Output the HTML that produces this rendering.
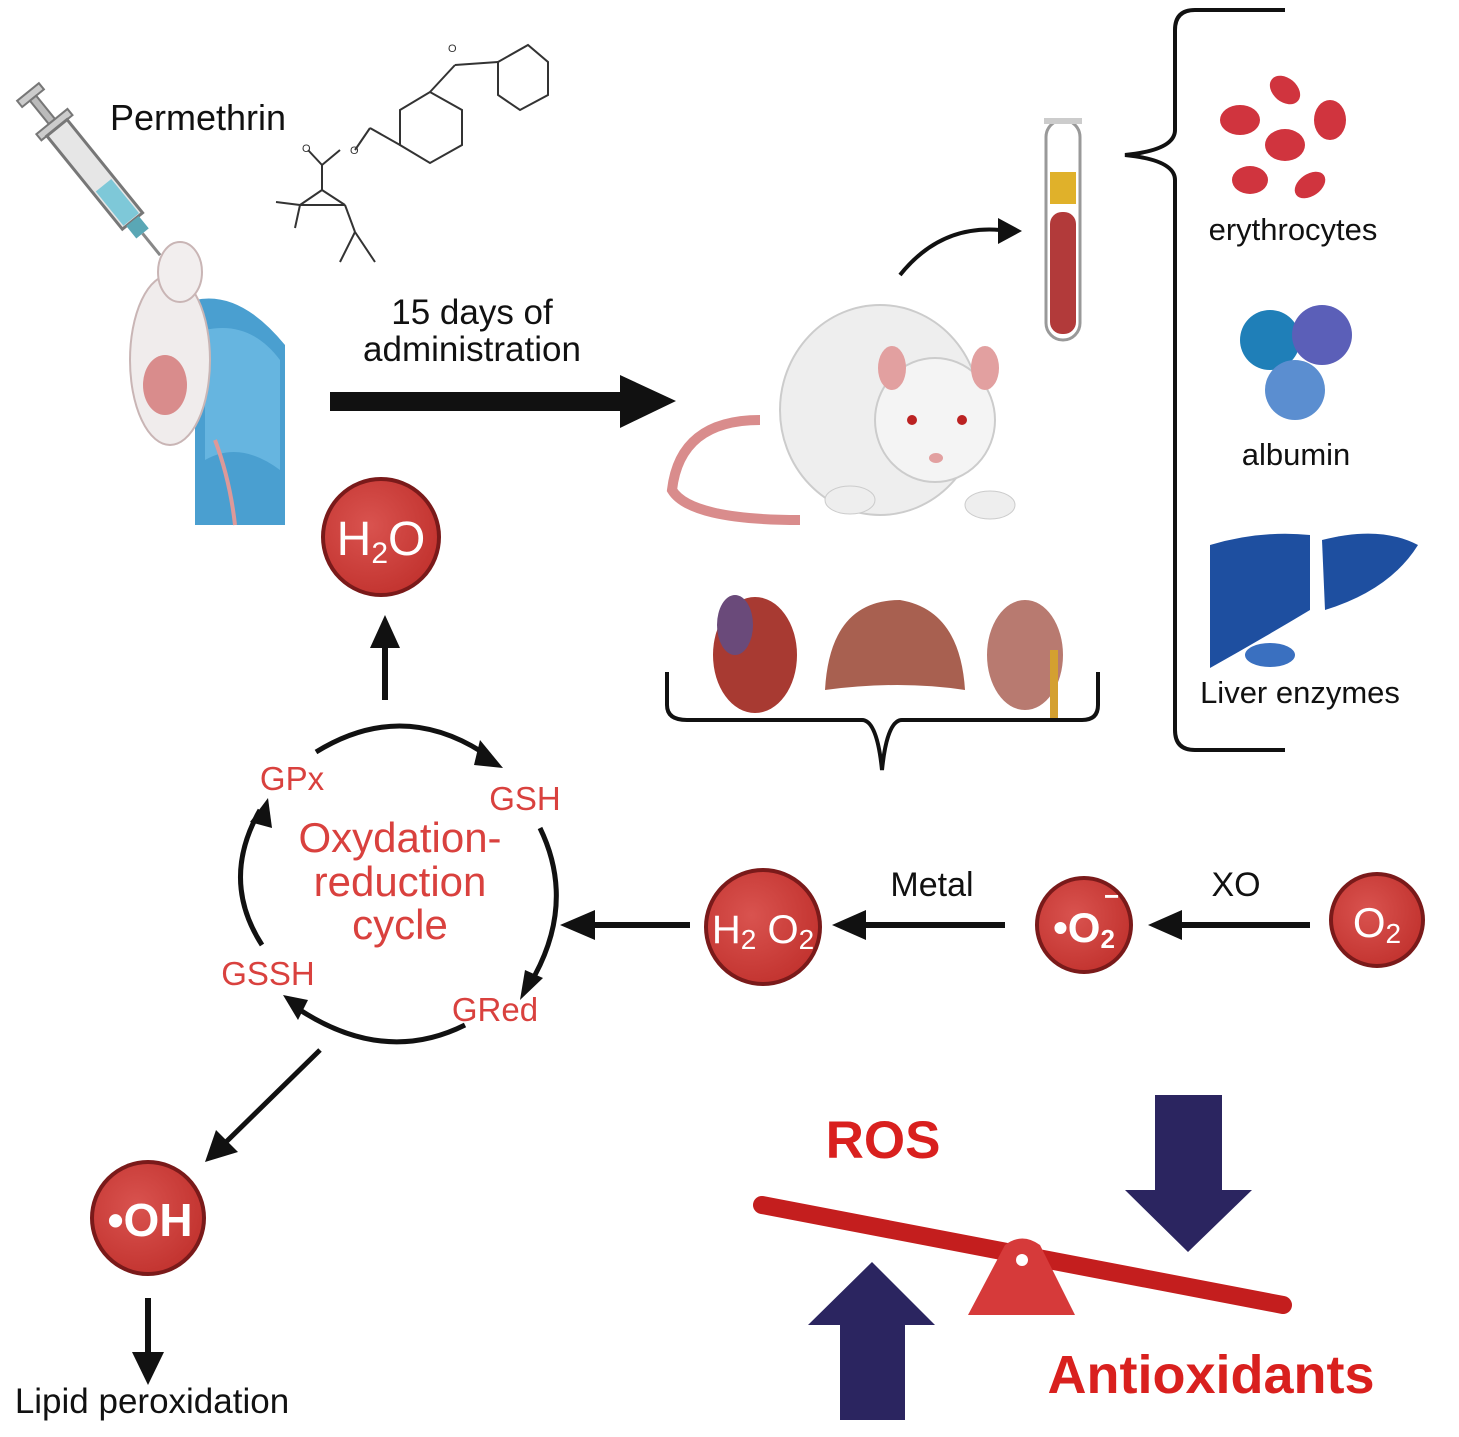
<!DOCTYPE html>
<html><head><meta charset="utf-8"><style>
html,body{margin:0;padding:0;background:#fff;}
svg{display:block;font-family:"Liberation Sans",Arial,sans-serif;}
</style></head><body>
<svg width="1459" height="1437" viewBox="0 0 1459 1437" xmlns="http://www.w3.org/2000/svg">
<defs>
<radialGradient id="rc" cx="0.4" cy="0.4" r="0.7"><stop offset="0" stop-color="#d9534f"/><stop offset="1" stop-color="#c0302c"/></radialGradient>
</defs>

<!-- syringe -->
<g transform="translate(28,92) rotate(51)">
<rect x="0" y="-14" width="8" height="28" fill="#ccc" stroke="#777" stroke-width="2"/>
<rect x="8" y="-4" width="30" height="8" fill="#bbb" stroke="#777" stroke-width="2"/>
<rect x="38" y="-20" width="8" height="40" fill="#ccc" stroke="#777" stroke-width="2"/>
<rect x="46" y="-13" width="120" height="26" fill="#e6e6e6" stroke="#777" stroke-width="3"/>
<rect x="120" y="-10" width="44" height="20" fill="#7ec8d8"/>
<rect x="166" y="-8" width="16" height="16" fill="#5aa7b5"/>
<line x1="182" y1="0" x2="210" y2="0" stroke="#888" stroke-width="3"/>
</g>
<text x="110" y="130" font-size="36" fill="#111">Permethrin</text>

<!-- chemical structure -->
<g stroke="#333" stroke-width="2" fill="none">
<polygon points="400,110 430,92 462,110 462,145 430,163 400,145"/>
<polygon points="498,62 528,45 548,62 548,95 520,110 498,95"/>
<line x1="430" y1="92" x2="455" y2="65"/><line x1="455" y1="65" x2="498" y2="62"/>
<line x1="400" y1="145" x2="370" y2="128"/><line x1="370" y1="128" x2="355" y2="150"/>
<line x1="340" y1="150" x2="322" y2="165"/><line x1="322" y1="165" x2="308" y2="150"/>
<line x1="322" y1="165" x2="322" y2="190"/><line x1="322" y1="190" x2="300" y2="205"/>
<line x1="322" y1="190" x2="345" y2="205"/><line x1="300" y1="205" x2="345" y2="205"/>
<line x1="300" y1="205" x2="276" y2="202"/><line x1="300" y1="205" x2="295" y2="228"/>
<line x1="345" y1="205" x2="355" y2="232"/><line x1="355" y1="232" x2="340" y2="262"/>
<line x1="355" y1="232" x2="375" y2="262"/>
</g>
<text x="448" y="52" font-size="11" fill="#333">O</text>
<text x="302" y="152" font-size="11" fill="#333">O</text>
<text x="350" y="154" font-size="11" fill="#333">O</text>

<text x="472" y="324" font-size="35" fill="#111" text-anchor="middle">15 days of</text>
<text x="472" y="361" font-size="35" fill="#111" text-anchor="middle">administration</text>
<rect x="330" y="392" width="295" height="19" fill="#111"/>
<polygon points="620,375 676,401 620,428" fill="#111"/>

<!-- mouse in hand -->
<path d="M195,300 Q240,290 285,345 L285,525 L195,525 Z" fill="#4a9fd0"/>
<path d="M205,330 Q250,320 280,360 L280,470 Q240,440 205,460 Z" fill="#66b5e0"/>
<ellipse cx="170" cy="360" rx="40" ry="85" fill="#f0ecec" stroke="#c9b5b5" stroke-width="2"/>
<ellipse cx="180" cy="272" rx="22" ry="30" fill="#f2eeee" stroke="#c9b5b5" stroke-width="2"/>
<ellipse cx="165" cy="385" rx="22" ry="30" fill="#d98c8c"/>
<path d="M215,440 Q230,480 235,525" stroke="#d99" stroke-width="4" fill="none"/>

<!-- rat -->
<path d="M760,420 Q680,420 672,490 Q690,520 800,520" stroke="#d98c8c" stroke-width="10" fill="none"/>
<ellipse cx="880" cy="410" rx="100" ry="105" fill="#eeeeee" stroke="#ccc" stroke-width="2"/>
<ellipse cx="935" cy="420" rx="60" ry="62" fill="#f4f4f4" stroke="#ccc" stroke-width="2"/>
<ellipse cx="892" cy="368" rx="14" ry="22" fill="#e2a0a0"/>
<ellipse cx="985" cy="368" rx="14" ry="22" fill="#e2a0a0"/>
<circle cx="912" cy="420" r="5" fill="#b22"/><circle cx="962" cy="420" r="5" fill="#b22"/>
<ellipse cx="936" cy="458" rx="7" ry="5" fill="#e2a0a0"/>
<ellipse cx="850" cy="500" rx="25" ry="14" fill="#eee" stroke="#ccc"/>
<ellipse cx="990" cy="505" rx="25" ry="14" fill="#eee" stroke="#ccc"/>
<path d="M900,275 Q940,225 1000,230" stroke="#111" stroke-width="4" fill="none"/>
<polygon points="998,218 1022,231 998,244" fill="#111"/>

<!-- test tube -->
<rect x="1046" y="120" width="34" height="220" rx="17" fill="#fff" stroke="#999" stroke-width="3"/>
<rect x="1050" y="172" width="26" height="32" fill="#e0b12a"/>
<rect x="1050" y="212" width="26" height="122" rx="12" fill="#b23a3a"/>
<rect x="1044" y="118" width="38" height="6" fill="#ccc"/>

<!-- right brace -->
<path d="M1285,10 L1195,10 Q1175,10 1175,30 L1175,130 Q1175,150 1125,155 Q1175,160 1175,180 L1175,730 Q1175,750 1195,750 L1285,750" stroke="#111" stroke-width="4" fill="none"/>
<g fill="#d0343e">
<ellipse cx="1285" cy="90" rx="17" ry="12" transform="rotate(40 1285 90)"/>
<ellipse cx="1240" cy="120" rx="20" ry="15"/>
<ellipse cx="1330" cy="120" rx="16" ry="20"/>
<ellipse cx="1285" cy="145" rx="20" ry="16"/>
<ellipse cx="1250" cy="180" rx="18" ry="14"/>
<ellipse cx="1310" cy="185" rx="17" ry="11" transform="rotate(-35 1310 185)"/>
</g>
<text x="1293" y="240" font-size="31" fill="#111" text-anchor="middle">erythrocytes</text>
<circle cx="1270" cy="340" r="30" fill="#1f7fb8"/>
<circle cx="1322" cy="335" r="30" fill="#5b5fb8"/>
<circle cx="1295" cy="390" r="30" fill="#5b8ed0"/>
<text x="1296" y="465" font-size="31" fill="#111" text-anchor="middle">albumin</text>
<path d="M1210,545 Q1260,530 1310,535 L1310,610 Q1260,640 1210,668 Z" fill="#1e4fa0"/>
<path d="M1322,540 Q1380,525 1418,545 Q1390,590 1325,610 Z" fill="#1e4fa0"/>
<ellipse cx="1270" cy="655" rx="25" ry="12" fill="#3a70c0"/>
<text x="1300" y="703" font-size="31" fill="#111" text-anchor="middle">Liver enzymes</text>

<!-- organs -->
<ellipse cx="755" cy="655" rx="42" ry="58" fill="#a83a32"/>
<ellipse cx="735" cy="625" rx="18" ry="30" fill="#6a4a7a"/>
<path d="M825,690 Q830,600 900,600 Q960,610 965,690 Q900,680 825,690 Z" fill="#a86050"/>
<ellipse cx="1025" cy="655" rx="38" ry="55" fill="#b87a70"/>
<rect x="1050" y="650" width="8" height="70" fill="#d4a030"/>
<path d="M667,672 L667,705 Q667,720 687,720 L862,720 Q877,720 882,770 Q887,720 902,720 L1082,720 Q1098,720 1098,705 L1098,672" stroke="#111" stroke-width="4" fill="none"/>

<!-- H2O -->
<circle cx="381" cy="537" r="58" fill="url(#rc)" stroke="#7a1a1a" stroke-width="4"/>
<text x="381" y="555" font-size="48" fill="#fff" text-anchor="middle">H<tspan font-size="30" dy="8">2</tspan><tspan dy="-8">O</tspan></text>
<line x1="385" y1="700" x2="385" y2="645" stroke="#111" stroke-width="6"/>
<polygon points="370,648 385,615 400,648" fill="#111"/>

<!-- cycle -->
<g stroke="#111" stroke-width="5" fill="none">
<path d="M316,752 Q400,700 482,752"/>
<path d="M540,828 Q575,900 535,975"/>
<path d="M465,1025 Q385,1065 300,1010"/>
<path d="M262,945 Q220,880 260,810"/>
</g>
<polygon points="480,740 503,768 474,765" fill="#111"/>
<polygon points="525,970 520,1000 543,978" fill="#111"/>
<polygon points="308,1000 283,995 298,1020" fill="#111"/>
<polygon points="250,822 268,798 272,828" fill="#111"/>
<g fill="#d9413e" font-size="33">
<text x="292" y="790" text-anchor="middle">GPx</text>
<text x="525" y="810" text-anchor="middle">GSH</text>
<text x="268" y="985" text-anchor="middle">GSSH</text>
<text x="495" y="1021" text-anchor="middle">GRed</text>
<text x="400" y="852" font-size="42" text-anchor="middle">Oxydation-</text>
<text x="400" y="896" font-size="42" text-anchor="middle">reduction</text>
<text x="400" y="939" font-size="42" text-anchor="middle">cycle</text>
</g>

<!-- chain -->
<line x1="690" y1="925" x2="590" y2="925" stroke="#111" stroke-width="6"/>
<polygon points="595,910 560,925 595,940" fill="#111"/>
<circle cx="763" cy="927" r="57" fill="url(#rc)" stroke="#7a1a1a" stroke-width="4"/>
<text x="763" y="943" font-size="40" fill="#fff" text-anchor="middle">H<tspan font-size="28" dy="6">2</tspan><tspan dy="-6"> O</tspan><tspan font-size="28" dy="6">2</tspan></text>
<line x1="1005" y1="925" x2="862" y2="925" stroke="#111" stroke-width="6"/>
<polygon points="866,910 832,925 866,940" fill="#111"/>
<text x="932" y="896" font-size="34" fill="#111" text-anchor="middle">Metal</text>
<circle cx="1084" cy="925" r="47" fill="url(#rc)" stroke="#7a1a1a" stroke-width="4"/>
<text x="1084" y="942" font-size="42" fill="#fff" text-anchor="middle" font-weight="bold">•O<tspan font-size="26" dy="6">2</tspan></text>
<text x="1104" y="905" font-size="26" fill="#fff" font-weight="bold">−</text>
<line x1="1310" y1="925" x2="1178" y2="925" stroke="#111" stroke-width="6"/>
<polygon points="1182,910 1148,925 1182,940" fill="#111"/>
<text x="1236" y="896" font-size="34" fill="#111" text-anchor="middle">XO</text>
<circle cx="1377" cy="920" r="46" fill="url(#rc)" stroke="#7a1a1a" stroke-width="4"/>
<text x="1377" y="937" font-size="42" fill="#fff" text-anchor="middle">O<tspan font-size="28" dy="6">2</tspan></text>

<!-- OH -->
<line x1="320" y1="1050" x2="225" y2="1143" stroke="#111" stroke-width="5"/>
<polygon points="205,1162 216,1130 238,1152" fill="#111"/>
<circle cx="148" cy="1218" r="56" fill="url(#rc)" stroke="#7a1a1a" stroke-width="4"/>
<text x="150" y="1236" font-size="46" fill="#fff" text-anchor="middle" font-weight="bold">•OH</text>
<line x1="148" y1="1298" x2="148" y2="1355" stroke="#111" stroke-width="6"/>
<polygon points="132,1352 148,1385 164,1352" fill="#111"/>
<text x="152" y="1413" font-size="35" fill="#111" text-anchor="middle">Lipid peroxidation</text>

<!-- balance -->
<text x="883" y="1158" font-size="53" font-weight="bold" fill="#d9201e" text-anchor="middle">ROS</text>
<text x="1211" y="1393" font-size="54" font-weight="bold" fill="#d9201e" text-anchor="middle">Antioxidants</text>
<line x1="762" y1="1205" x2="1283" y2="1305" stroke="#c41e1e" stroke-width="18" stroke-linecap="round"/>
<path d="M1005,1245 Q1022,1232 1040,1245 L1075,1315 L968,1315 Z" fill="#d63a3a"/>
<circle cx="1022" cy="1260" r="6" fill="#fff"/>
<polygon points="1155,1095 1222,1095 1222,1190 1252,1190 1188,1252 1125,1190 1155,1190" fill="#2b2560"/>
<polygon points="840,1420 905,1420 905,1325 935,1325 872,1262 808,1325 840,1325" fill="#2b2560"/>
</svg>
</body></html>
